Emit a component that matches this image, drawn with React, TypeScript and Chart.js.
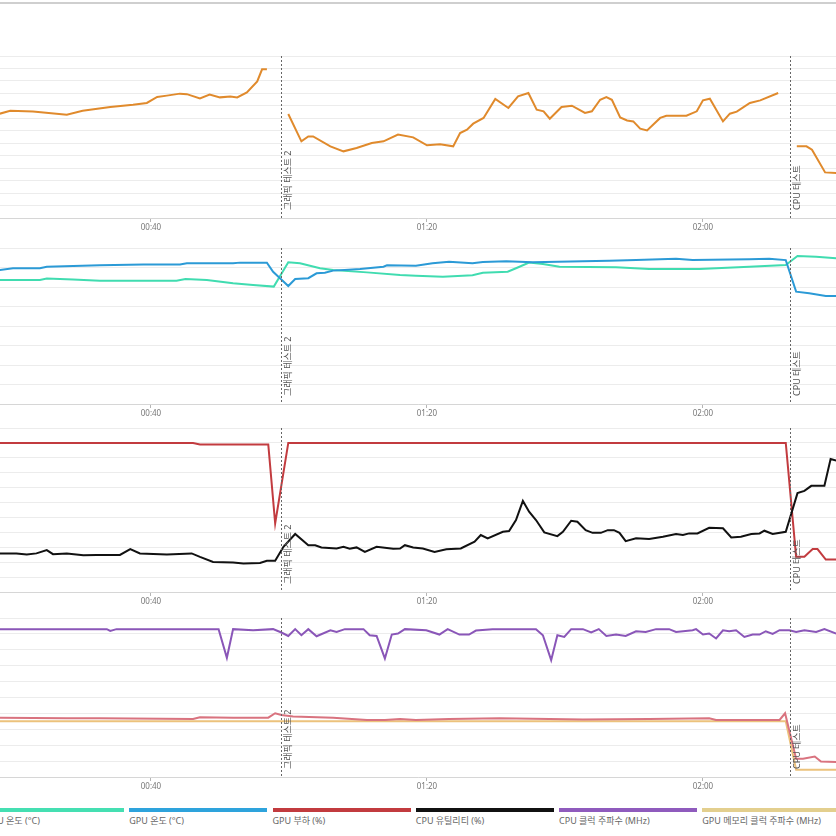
import React, { useEffect, useRef } from 'react';
import { Chart, registerables } from 'chart.js';

Chart.register(...registerables);

// ---- axis / markers ----
const X_MIN = 18.12;
const X_MAX = 139.28;
const xTickValues = [40, 80, 120];
const markerTimes = [58.84, 132.61];
const markerLabels = ['그래픽 테스트 2', 'CPU 테스트'];

// ---- panel 1: frame rate (orange) ----
const fpsTimes = [18.1, 19.6, 22.9, 27.8, 30.1, 34.1, 37.4, 39.4, 40.9, 42.3, 44.2, 45.2, 47.1, 48.5, 50.0, 51.5, 52.5, 53.9, 55.4, 56.1, 56.8,
  58.5,
  59.9, 61.8, 62.8, 63.5, 66.0, 67.9, 69.8, 72.0, 73.7, 75.8, 78.0, 80.0, 81.9, 83.8, 84.8, 85.8, 86.7, 88.2, 89.9, 91.8,
  93.2, 94.7, 95.9, 96.9, 97.8, 99.5, 101.0, 102.9, 103.9, 105.1, 106.0, 106.8, 108.0, 109.0, 109.9, 110.9, 111.9, 113.8, 114.7, 117.6,
  119.1, 120.0, 121.0, 122.9, 123.9, 124.9, 126.8, 128.3, 130.9,
  132.5,
  133.6, 135.0, 135.8, 137.7, 139.3];
const fpsValues = [83.7, 86.1, 85.5, 82.9, 86.1, 89.1, 90.9, 92.3, 97.1, 98.2, 99.8, 99.4, 96.0, 99.0, 96.8, 97.4, 96.8, 100.8, 109.6, 119.3, 119.3,
  null,
  83.5, 61.5, 65.5, 65.5, 57.5, 53.5, 56.2, 60.2, 61.5, 66.9, 64.7, 58.3, 59.1, 57.5, 68.2, 70.9, 75.7, 80.3, 95.5, 88.3,
  97.6, 100.3, 86.9, 85.6, 79.7, 89.1, 90.1, 84.3, 85.6, 94.9, 97.1, 94.9, 80.7, 78.3, 77.5, 71.7, 70.3, 80.3, 82.1, 82.1,
  85.6, 94.4, 95.7, 77.5, 83.7, 85.3, 92.3, 94.4, 100.3,
  null,
  57.5, 57.5, 54.8, 36.6, 36.1];

// ---- panel 2: temperatures ----
const gpuTempTimes = [18.1, 20.0, 23.9, 24.9, 32.6, 38.9, 44.2, 45.2, 51.9, 52.9, 56.8, 57.7, 58.7, 59.9, 60.9, 62.8, 64.0, 65.2, 66.4, 70.3,
  73.7, 74.2, 78.4, 80.8, 83.2, 86.6, 88.1, 91.5, 95.3, 102.6, 106.4, 110.3, 116.1, 118.5, 126.7, 129.6, 132.0, 133.5, 135.4, 137.8, 139.3];
const gpuTempValues = [68.7, 69.6, 69.6, 70.4, 71.1, 71.6, 71.6, 72.2, 72.2, 72.5, 72.5, 67.8, 64.5, 60.5, 64.1, 64.5, 67.0, 67.3, 68.4, 69.2,
  70.4, 71.1, 70.9, 72.2, 73.0, 72.2, 72.8, 73.2, 72.7, 73.2, 73.5, 73.8, 74.5, 73.8, 74.2, 74.5, 73.8, 57.6, 56.8, 55.4, 55.4];
const cpuTempTimes = [18.1, 23.9, 24.9, 28.7, 32.6, 43.7, 45.0, 48.1, 51.9, 54.8, 57.8, 59.9, 61.6, 64.5, 66.4, 71.3, 76.1, 78.4, 82.3, 86.6,
  88.1, 91.7, 92.9, 94.8, 96.8, 99.2, 107.4, 112.2, 119.5, 126.7, 132.0, 133.7, 136.4, 139.3];
const cpuTempValues = [63.6, 63.6, 64.3, 63.9, 63.2, 63.2, 64.1, 63.6, 61.9, 61.0, 60.2, 72.7, 72.2, 69.6, 68.7, 67.5, 66.2, 65.8, 65.3, 66.0,
  67.3, 67.8, 69.6, 72.5, 71.8, 70.4, 70.1, 69.2, 69.2, 70.4, 71.3, 75.9, 75.5, 74.7];

// ---- panel 3: loads ----
const gpuLoadTimes = [18.1, 46.1, 47.1, 57.0, 58.0, 59.9, 132.0, 133.5, 134.7, 135.9, 136.6, 137.8, 139.3];
const gpuLoadValues = [100, 100, 99, 99, 46, 100, 100, 23.6, 23.6, 28.8, 28.8, 21.8, 21.8];
const cpuUtilTimes = [18.1, 20.5, 22.0, 23.4, 24.9, 25.8, 27.8, 30.2, 32.1, 35.5, 37.0, 38.4, 42.3, 45.9, 47.1, 49.0, 51.9, 53.4, 55.8, 56.8,
  58.0, 59.2, 60.9, 62.8, 63.8, 64.7, 66.9, 67.9, 68.8, 69.8, 71.0, 72.7, 75.1, 76.1, 76.8, 78.0, 79.4, 81.1, 82.8, 84.9,
  86.9, 87.8, 88.8, 91.0, 91.9, 92.9, 93.9, 94.8, 95.8, 97.0, 98.9, 99.7, 100.9, 101.8, 103.0, 104.0, 105.2, 106.2, 107.1, 107.9,
  108.8, 110.3, 112.2, 114.2, 116.1, 117.1, 118.0, 119.2, 120.9, 122.9, 124.1, 125.5, 127.0, 128.2, 128.9, 130.1, 132.0, 133.7, 134.7, 135.7,
  137.6, 138.5, 139.3];
const cpuUtilValues = [25.9, 25.9, 25.2, 25.9, 28.1, 25.4, 25.9, 24.7, 24.9, 24.9, 28.8, 25.9, 25.2, 25.9, 23.6, 20.2, 19.8, 19.1, 19.5, 20.9,
  20.9, 30.3, 38.9, 31.4, 31.4, 29.9, 29.2, 30.3, 29.0, 29.9, 26.9, 30.3, 29.0, 29.2, 31.4, 29.9, 29.2, 26.9, 28.6, 29.2,
  33.7, 38.2, 36.0, 40.4, 40.9, 48.3, 61.1, 53.9, 48.3, 40.0, 37.5, 40.4, 47.8, 47.1, 41.5, 39.7, 39.7, 41.5, 41.5, 39.7,
  34.1, 36.0, 35.5, 37.0, 38.9, 38.2, 39.3, 39.3, 43.1, 42.7, 36.6, 37.0, 38.9, 39.3, 41.1, 38.9, 40.4, 66.3, 67.8, 71.2,
  71.2, 89.2, 88.2];

// ---- panel 4: clocks ----
const cpuClockTimes = [18.1, 33.6, 34.1, 35.0, 49.8, 51.0, 51.9, 54.8, 57.7, 58.9, 59.9, 60.9, 61.8, 62.8, 64.0, 66.0, 66.9, 68.1, 70.8, 71.7,
  72.7, 73.9, 74.9, 75.8, 76.8, 79.9, 81.8, 83.0, 84.7, 86.1, 87.1, 89.5, 95.8, 96.8, 98.0, 98.9, 99.9, 100.9, 102.6, 103.8,
  104.9, 106.0, 107.4, 108.8, 110.3, 111.7, 113.2, 115.1, 116.1, 118.5, 119.0, 120.0, 120.9, 121.9, 122.9, 123.8, 124.8, 126.0, 127.2, 128.2,
  129.1, 130.1, 131.1, 132.5, 133.5, 134.7, 136.4, 137.6, 139.3];
const cpuClockValues = [4650, 4650, 4593, 4650, 4650, 3748, 4650, 4615, 4650, 4543, 4436, 4650, 4458, 4650, 4427, 4615, 4562, 4650, 4650, 4458,
  4436, 3728, 4480, 4512, 4650, 4615, 4480, 4650, 4480, 4480, 4606, 4650, 4650, 4458, 3675, 4458, 4405, 4650, 4650, 4543,
  4650, 4436, 4480, 4436, 4584, 4562, 4650, 4650, 4562, 4615, 4650, 4480, 4512, 4355, 4615, 4584, 4615, 4405, 4480, 4480,
  4584, 4499, 4615, 4615, 4562, 4615, 4562, 4650, 4512];
const gpuClockTimes = [18.1, 27.8, 32.6, 46.1, 47.1, 51.9, 57.0, 58.0, 58.9, 60.6, 66.4, 71.3, 73.9, 76.1, 78.4, 83.2, 90.5, 102.6, 112.2, 120.9,
  121.9, 131.1, 131.9, 133.5, 134.5, 136.2, 137.1, 139.3];
const gpuClockValues = [1867, 1848, 1848, 1827, 1880, 1867, 1867, 2005, 1952, 1899, 1867, 1795, 1795, 1827, 1795, 1827, 1848, 1805, 1827, 1848,
  1795, 1795, 2005, 575, 575, 645, 489, 470];
const gpuMemTimes = [18.1, 132.0, 133.5, 139.3];
const gpuMemValues = [1750, 1750, 230, 230];

// ---- legend ----
const legendLabels = ['CPU 온도 (°C)', 'GPU 온도 (°C)', 'GPU 부하 (%)', 'CPU 유틸리티 (%)', 'CPU 클럭 주파수 (MHz)', 'GPU 메모리 클럭 주파수 (MHz)'];
const legendColors = ['#45dfb2', '#2ea3dc', '#c23b3f', '#111111', '#8f5bbd', '#e3cf8e'];

const FONT = '"Noto Sans", "Noto Sans CJK KR", sans-serif';

function pts(times: number[], values: (number | null)[]) {
  return times.map((t, i) => ({ x: t, y: values[i] }));
}

const mmss = (v: number) => {
  const m = Math.floor(v / 60);
  const s = Math.round(v % 60);
  return `${String(m).padStart(2, '0')}:${String(s).padStart(2, '0')}`;
};

const markerPlugin = {
  id: 'markers',
  afterDatasetsDraw(chart: any) {
    const { ctx, chartArea, scales } = chart;
    ctx.save();
    markerTimes.forEach((t, i) => {
      const x = Math.round(scales.x.getPixelForValue(t)) + 0.5;
      ctx.strokeStyle = '#666';
      ctx.lineWidth = 1;
      ctx.setLineDash([2, 2]);
      ctx.beginPath();
      ctx.moveTo(x, chartArea.top);
      ctx.lineTo(x, chartArea.bottom);
      ctx.stroke();
      ctx.setLineDash([]);
      ctx.save();
      ctx.translate(x + 7, chartArea.bottom - 8);
      ctx.rotate(-Math.PI / 2);
      ctx.fillStyle = '#555';
      ctx.font = `9px ${FONT}`;
      ctx.textAlign = 'left';
      ctx.textBaseline = 'middle';
      ctx.fillText(markerLabels[i], 0, 0);
      ctx.restore();
    });
    ctx.restore();
  },
};

type Series = { label: string; color: string; times: number[]; values: (number | null)[] };

const panels: { top: number; height: number; yMax: number; yStep: number; series: Series[] }[] = [
  {
    top: 50, height: 188, yMax: 130, yStep: 10,
    series: [{ label: 'FPS', color: '#e08a2c', times: fpsTimes, values: fpsValues }],
  },
  {
    top: 242, height: 182, yMax: 80, yStep: 10,
    series: [
      { label: legendLabels[1], color: '#2b9ad6', times: gpuTempTimes, values: gpuTempValues },
      { label: legendLabels[0], color: '#40dcb0', times: cpuTempTimes, values: cpuTempValues },
    ],
  },
  {
    top: 422, height: 190, yMax: 110, yStep: 10,
    series: [
      { label: legendLabels[3], color: '#111111', times: cpuUtilTimes, values: cpuUtilValues },
      { label: legendLabels[2], color: '#c23b3f', times: gpuLoadTimes, values: gpuLoadValues },
    ],
  },
  {
    top: 612, height: 185, yMax: 5000, yStep: 500,
    series: [
      { label: legendLabels[4], color: '#8a56b8', times: cpuClockTimes, values: cpuClockValues },
      { label: 'GPU 클럭 주파수 (MHz)', color: '#d9737f', times: gpuClockTimes, values: gpuClockValues },
      { label: legendLabels[5], color: '#ecc27c', times: gpuMemTimes, values: gpuMemValues },
    ],
  },
];

function Panel({ top, height, yMax, yStep, series }: { top: number; height: number; yMax: number; yStep: number; series: Series[] }) {
  const ref = useRef<HTMLCanvasElement>(null);
  useEffect(() => {
    const chart = new Chart(ref.current as HTMLCanvasElement, {
      type: 'line',
      data: {
        datasets: series.map((s) => ({
          label: s.label,
          data: pts(s.times, s.values) as any,
          borderColor: s.color,
          backgroundColor: s.color,
          borderWidth: 2,
          pointRadius: 0,
          tension: 0,
          spanGaps: false,
          fill: false,
        })),
      },
      options: {
        animation: false,
        responsive: false,
        maintainAspectRatio: false,
        layout: { padding: { top: 6, left: 0, right: 0, bottom: 0 } },
        plugins: { legend: { display: false }, tooltip: { enabled: false } },
        scales: {
          x: {
            type: 'linear',
            min: X_MIN,
            max: X_MAX,
            afterBuildTicks: (scale: any) => {
              scale.ticks = xTickValues.map((v) => ({ value: v }));
            },
            afterFit: (scale: any) => {
              scale.height = 20;
            },
            grid: { drawOnChartArea: false, drawTicks: true, tickLength: 4, color: '#b5b5b5' },
            border: { color: '#d6d6d6' },
            ticks: {
              padding: 1,
              maxRotation: 0,
              autoSkip: false,
              color: '#777',
              font: { size: 8, family: FONT },
              callback: (v: any) => mmss(Number(v)),
            },
          },
          y: {
            min: 0,
            max: yMax,
            ticks: { display: false, stepSize: yStep },
            grid: { color: '#ececec', drawTicks: false },
            border: { display: false },
          },
        },
      },
      plugins: [markerPlugin],
    });
    return () => chart.destroy();
  }, []);
  return (
    <canvas
      ref={ref}
      width={836}
      height={height}
      style={{ position: 'absolute', left: 0, top, width: 836, height }}
    />
  );
}

export default function App() {
  return (
    <div style={{ position: 'absolute', left: 0, top: 0, width: 836, height: 836, background: '#fff', overflow: 'hidden', fontFamily: FONT }}>
      <div style={{ position: 'absolute', left: 0, top: 2, width: 836, height: 2, background: '#cfcfcf' }} />
      {panels.map((p, i) => (
        <Panel key={i} {...p} />
      ))}
      {legendLabels.map((label, i) => {
        const left = -14 + i * 143.25;
        return (
          <div key={label} style={{ position: 'absolute', left, top: 808, width: 138 }}>
            <div style={{ height: 4, background: legendColors[i] }} />
            <div style={{ marginTop: 3, fontSize: 9, lineHeight: '12px', color: '#666', whiteSpace: 'nowrap' }}>{label}</div>
          </div>
        );
      })}
    </div>
  );
}
